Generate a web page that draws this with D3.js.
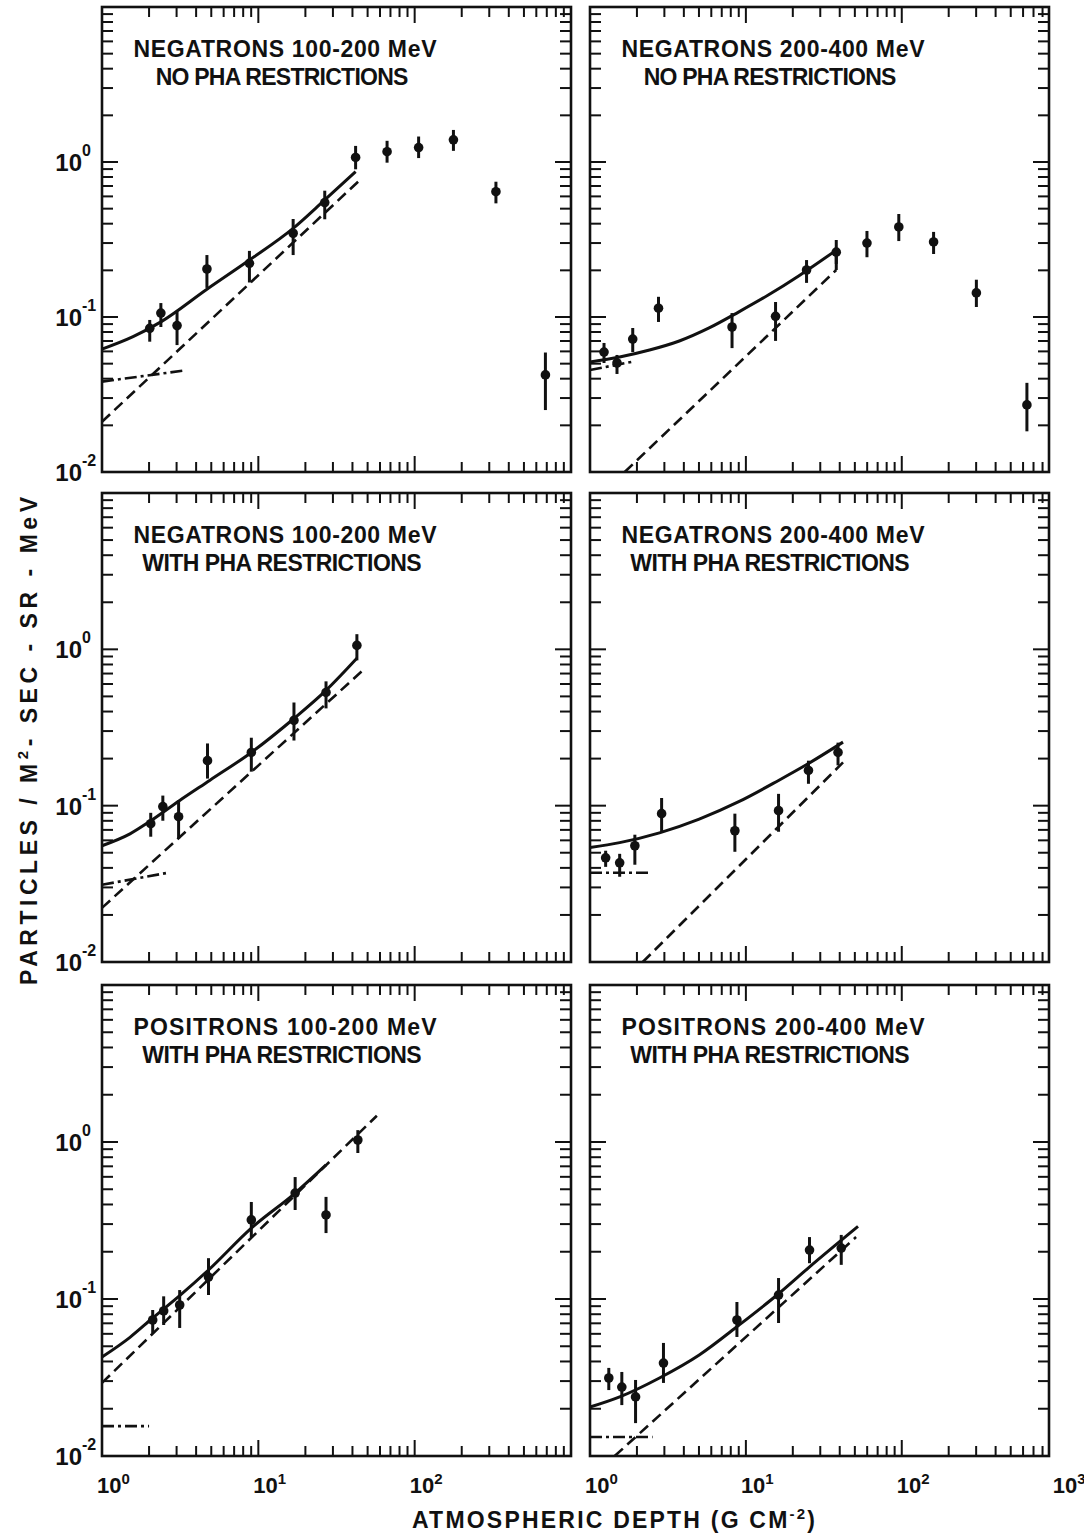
<!DOCTYPE html>
<meta charset="UTF-8">
<style>
body { margin: 0; background: #fff; }
svg text { font-family: "Liberation Sans", Arial, sans-serif; font-weight: bold; fill: #111; }
.frame { fill: none; stroke: #111; stroke-width: 2.6px; }
.tick { stroke: #111; stroke-width: 2px; }
.solid { fill: none; stroke: #111; stroke-width: 3px; }
.dashed { fill: none; stroke: #111; stroke-width: 2.6px; stroke-dasharray: 11,6; }
.dotdash { fill: none; stroke: #111; stroke-width: 2.6px; stroke-dasharray: 12,4,3,4; }
.err { stroke: #111; stroke-width: 3px; }
.pt { fill: #111; }
</style>
<body>
<script src="https://d3js.org/d3.v7.min.js"></script>
<script>

// ---- data: [depth, flux, errLow, errHigh] for points, [depth, flux] for curves ----

// negatrons 100-200 MeV, no PHA restrictions
var neg100NoPhaPts = [
  [2.02, 0.0845, 0.0693, 0.0957],
  [2.38, 0.106, 0.0862, 0.123],
  [3.02, 0.088, 0.0659, 0.108],
  [4.69, 0.204, 0.154, 0.251],
  [8.77, 0.222, 0.167, 0.267],
  [16.7, 0.347, 0.251, 0.429],
  [26.6, 0.547, 0.427, 0.653],
  [41.9, 1.07, 0.897, 1.27],
  [66.6, 1.165, 0.99, 1.37],
  [106, 1.24, 1.06, 1.46],
  [177, 1.39, 1.18, 1.61],
  [331, 0.643, 0.541, 0.746],
  [686, 0.0423, 0.0251, 0.059]
];
var neg100NoPhaSolid = [[1, 0.062], [1.58, 0.0746], [2.38, 0.093], [4.69, 0.151], [8.77, 0.233], [16.7, 0.373], [26.6, 0.569], [41.9, 0.866]];
var neg100NoPhaDash = [[1, 0.0211], [45.1, 0.773]];
var neg100NoPhaDotDash = [[1, 0.0383], [3.27, 0.045]];

// negatrons 200-400 MeV, no PHA restrictions
var neg200NoPhaPts = [
  [1.23, 0.0594, 0.0505, 0.068],
  [1.49, 0.0505, 0.0429, 0.0569],
  [1.88, 0.0721, 0.0594, 0.0849],
  [2.75, 0.114, 0.0929, 0.135],
  [8.15, 0.0862, 0.063, 0.106],
  [15.5, 0.101, 0.0701, 0.125],
  [24.5, 0.201, 0.166, 0.233],
  [38.0, 0.262, 0.220, 0.314],
  [59.8, 0.300, 0.243, 0.359],
  [95.7, 0.381, 0.309, 0.462],
  [160, 0.305, 0.255, 0.354],
  [301, 0.143, 0.116, 0.174],
  [635, 0.0271, 0.0183, 0.0376]
];
var neg200NoPhaSolid = [[1, 0.0513], [1.55, 0.0552], [2.41, 0.0612], [3.74, 0.070], [5.81, 0.085], [9.02, 0.108], [14.0, 0.139], [21.8, 0.184], [38.0, 0.270], [38.0, 0.201]];
var neg200NoPhaDash = [[1.67, 0.01], [38.0, 0.201]];
var neg200NoPhaDotDash = [[1, 0.0455], [1.85, 0.0513]];

// negatrons 100-200 MeV, with PHA restrictions
var neg100PhaPts = [
  [2.05, 0.0767, 0.0633, 0.090],
  [2.45, 0.0986, 0.0801, 0.116],
  [3.09, 0.085, 0.0614, 0.108],
  [4.73, 0.194, 0.149, 0.250],
  [9.02, 0.219, 0.165, 0.272],
  [16.9, 0.351, 0.261, 0.457],
  [27.1, 0.530, 0.419, 0.624],
  [42.7, 1.06, 0.850, 1.25]
];
var neg100PhaSolid = [[1, 0.0554], [1.51, 0.066], [2.05, 0.080], [3.14, 0.108], [4.88, 0.145], [9.02, 0.219], [16.9, 0.361], [27.1, 0.546], [42.7, 0.876]];
var neg100PhaDash = [[1, 0.0222], [47.3, 0.744]];
var neg100PhaDotDash = [[1, 0.0312], [2.63, 0.0372]];

// negatrons 200-400 MeV, with PHA restrictions
var neg200PhaPts = [
  [1.26, 0.0464, 0.0406, 0.0515],
  [1.55, 0.0431, 0.0351, 0.0492],
  [1.94, 0.0554, 0.0419, 0.0652],
  [2.88, 0.0889, 0.0681, 0.112],
  [8.5, 0.0691, 0.0507, 0.0889],
  [16.2, 0.0929, 0.0681, 0.119],
  [25.2, 0.168, 0.138, 0.194],
  [39.0, 0.219, 0.181, 0.253]
];
var neg200PhaSolid = [[1, 0.054], [1.55, 0.058], [2.79, 0.067], [5.02, 0.082], [9.0, 0.106], [16.2, 0.145], [25.2, 0.186], [42, 0.255]];
var neg200PhaDash = [[2.18, 0.01], [42, 0.189]];
var neg200PhaDotDash = [[1, 0.0372], [2.41, 0.0372]];

// positrons 100-200 MeV, with PHA restrictions
var pos100PhaPts = [
  [2.11, 0.0735, 0.0607, 0.0851],
  [2.48, 0.0839, 0.0683, 0.104],
  [3.14, 0.0916, 0.0654, 0.114],
  [4.80, 0.138, 0.106, 0.182],
  [9.02, 0.319, 0.248, 0.415],
  [17.2, 0.473, 0.369, 0.598],
  [27.1, 0.343, 0.263, 0.447],
  [43.3, 1.03, 0.851, 1.19]
];
var pos100PhaSolid = [[1, 0.0427], [1.51, 0.057], [2.11, 0.0757], [3.14, 0.105], [4.8, 0.153], [9.02, 0.283], [17.2, 0.473], [27.1, 0.714]];
var pos100PhaDash = [[1, 0.0292], [57.3, 1.47]];
var pos100PhaDotDash = [[1, 0.0155], [2.0, 0.0155]];

// positrons 200-400 MeV, with PHA restrictions
var pos200PhaPts = [
  [1.32, 0.0314, 0.0263, 0.0364],
  [1.60, 0.0275, 0.0211, 0.0343],
  [1.96, 0.0238, 0.0162, 0.0305],
  [2.96, 0.0391, 0.0292, 0.0525],
  [8.76, 0.0735, 0.0573, 0.0957],
  [16.2, 0.106, 0.0703, 0.136],
  [25.6, 0.205, 0.169, 0.248],
  [40.9, 0.211, 0.165, 0.256]
];
var pos200PhaSolid = [[1, 0.0205], [1.55, 0.0238], [2.79, 0.0314], [5.02, 0.044], [9.0, 0.068], [16.2, 0.108], [25.2, 0.158], [52.4, 0.29]];
var pos200PhaDash = [[1.44, 0.01], [50.9, 0.248]];
var pos200PhaDotDash = [[1, 0.0132], [2.52, 0.0132]];

var panelTitles = [
  ["NEGATRONS 100-200 MeV", "NO PHA RESTRICTIONS"],
  ["NEGATRONS 200-400 MeV", "NO PHA RESTRICTIONS"],
  ["NEGATRONS 100-200 MeV", "WITH PHA RESTRICTIONS"],
  ["NEGATRONS 200-400 MeV", "WITH PHA RESTRICTIONS"],
  ["POSITRONS 100-200 MeV", "WITH PHA RESTRICTIONS"],
  ["POSITRONS 200-400 MeV", "WITH PHA RESTRICTIONS"]
];
var xTickLabels = [[1, 10, 100], [1, 10, 100, 1000]];
var yTickLabels = [1, 0.1, 0.01];

var panels = [
  {col: 0, row: 0, pts: neg100NoPhaPts, solid: neg100NoPhaSolid, dash: neg100NoPhaDash, dotdash: neg100NoPhaDotDash},
  {col: 1, row: 0, pts: neg200NoPhaPts, solid: neg200NoPhaSolid, dash: neg200NoPhaDash, dotdash: neg200NoPhaDotDash},
  {col: 0, row: 1, pts: neg100PhaPts, solid: neg100PhaSolid, dash: neg100PhaDash, dotdash: neg100PhaDotDash},
  {col: 1, row: 1, pts: neg200PhaPts, solid: neg200PhaSolid, dash: neg200PhaDash, dotdash: neg200PhaDotDash},
  {col: 0, row: 2, pts: pos100PhaPts, solid: pos100PhaSolid, dash: pos100PhaDash, dotdash: pos100PhaDotDash},
  {col: 1, row: 2, pts: pos200PhaPts, solid: pos200PhaSolid, dash: pos200PhaDash, dotdash: pos200PhaDotDash}
];

// ---- layout ----
var width = 1084, height = 1538;
var colLeft = [102, 590], colRight = [571, 1049], xMax = [1000, 880];
var rowTop = [7, 493, 985], rowBottom = [472, 962, 1456];

var svg = d3.select("body").append("svg")
    .attr("width", width)
    .attr("height", height);

function decadeTicks(lo, hi) {
  var out = [];
  for (var e = Math.round(Math.log10(lo)); e < Math.log10(hi); e++) {
    for (var k = 1; k <= 9; k++) {
      var v = k * Math.pow(10, e);
      if (v > lo * 1.0001 && v < hi * 0.9999) out.push({v: v, major: k === 1});
    }
  }
  return out;
}

panels.forEach(function(p, i) {
  var x = d3.scaleLog().domain([1, xMax[p.col]]).range([colLeft[p.col], colRight[p.col]]);
  var y = d3.scaleLog().domain([0.01, 10]).range([rowBottom[p.row], rowTop[p.row]]);
  var x0 = colLeft[p.col], x1 = colRight[p.col], y0 = rowTop[p.row], y1 = rowBottom[p.row];
  var g = svg.append("g");

  // ticks on all four sides, pointing inward
  decadeTicks(1, xMax[p.col]).forEach(function(t) {
    var len = t.major ? 16 : 10;
    g.append("line").attr("class", "tick")
      .attr("x1", x(t.v)).attr("x2", x(t.v)).attr("y1", y1).attr("y2", y1 - len);
    g.append("line").attr("class", "tick")
      .attr("x1", x(t.v)).attr("x2", x(t.v)).attr("y1", y0).attr("y2", y0 + len);
  });
  decadeTicks(0.01, 10).forEach(function(t) {
    var len = t.major ? 16 : 11;
    g.append("line").attr("class", "tick")
      .attr("x1", x0).attr("x2", x0 + len).attr("y1", y(t.v)).attr("y2", y(t.v));
    g.append("line").attr("class", "tick")
      .attr("x1", x1).attr("x2", x1 - len).attr("y1", y(t.v)).attr("y2", y(t.v));
  });

  var line = d3.line().x(function(d) { return x(d[0]); }).y(function(d) { return y(d[1]); });
  var smooth = d3.line().curve(d3.curveMonotoneX)
      .x(function(d) { return x(d[0]); }).y(function(d) { return y(d[1]); });

  // a repeated depth at the end of a solid curve is a vertical join
  var solidMain = p.solid.filter(function(d, j) { return j === 0 || d[0] !== p.solid[j - 1][0]; });
  g.append("path").attr("class", "solid").attr("d", smooth(solidMain));
  if (solidMain.length < p.solid.length) {
    g.append("path").attr("class", "solid").attr("d", line(p.solid.slice(-2)));
  }
  g.append("path").attr("class", "dashed").attr("d", line(p.dash));
  g.append("path").attr("class", "dotdash").attr("d", line(p.dotdash));

  g.selectAll("line.err").data(p.pts).enter().append("line")
    .attr("class", "err")
    .attr("x1", function(d) { return x(d[0]); })
    .attr("x2", function(d) { return x(d[0]); })
    .attr("y1", function(d) { return y(d[2]); })
    .attr("y2", function(d) { return y(d[3]); });
  g.selectAll("circle.pt").data(p.pts).enter().append("circle")
    .attr("class", "pt")
    .attr("cx", function(d) { return x(d[0]); })
    .attr("cy", function(d) { return y(d[1]); })
    .attr("r", 4.8);

  g.append("rect").attr("class", "frame")
    .attr("x", x0).attr("y", y0).attr("width", x1 - x0).attr("height", y1 - y0);

  // panel title
  var tx = x0 + 183;
  g.append("text").attr("x", tx).attr("y", y0 + 50)
    .attr("text-anchor", "middle").style("font-size", "23px")
    .attr("textLength", 303).attr("lengthAdjust", "spacing")
    .text(panelTitles[i][0]);
  g.append("text").attr("x", tx - 3).attr("y", y0 + 78)
    .attr("text-anchor", "middle").style("font-size", "23px")
    .attr("textLength", panelTitles[i][1].length * 13.3).attr("lengthAdjust", "spacing")
    .text(panelTitles[i][1]);

  // y tick labels, left column only
  if (p.col === 0) {
    yTickLabels.forEach(function(v) {
      g.append("text").attr("x", 82).attr("y", y(v) + 9)
        .attr("text-anchor", "end").style("font-size", "24px").text("10");
      g.append("text").attr("x", 82).attr("y", y(v) - 6)
        .style("font-size", "16px").text(String(Math.round(Math.log10(v))));
    });
  }

  // x tick labels, bottom row only
  if (p.row === 2) {
    xTickLabels[p.col].forEach(function(v) {
      var t = g.append("text").attr("x", x(v) - 5).attr("y", 1493).style("font-size", "22px");
      t.append("tspan").text("10");
      t.append("tspan").attr("dy", -9).style("font-size", "15px")
        .text(String(Math.round(Math.log10(v))));
    });
  }
});

// axis titles
var xt = svg.append("text").attr("x", 412).attr("y", 1528)
    .style("font-size", "23px")
    .attr("textLength", 403).attr("lengthAdjust", "spacing");
xt.append("tspan").text("ATMOSPHERIC DEPTH (G CM");
xt.append("tspan").attr("dy", -9).style("font-size", "15px").text("-2");
xt.append("tspan").attr("dy", 9).text(")");

var yt = svg.append("text")
    .attr("transform", "translate(37,985) rotate(-90)")
    .style("font-size", "23px")
    .attr("textLength", 488).attr("lengthAdjust", "spacing");
yt.append("tspan").text("PARTICLES / M");
yt.append("tspan").attr("dy", -9).style("font-size", "15px").text("2");
yt.append("tspan").attr("dy", 9).text("- SEC - SR - MeV");

</script>
</body>
